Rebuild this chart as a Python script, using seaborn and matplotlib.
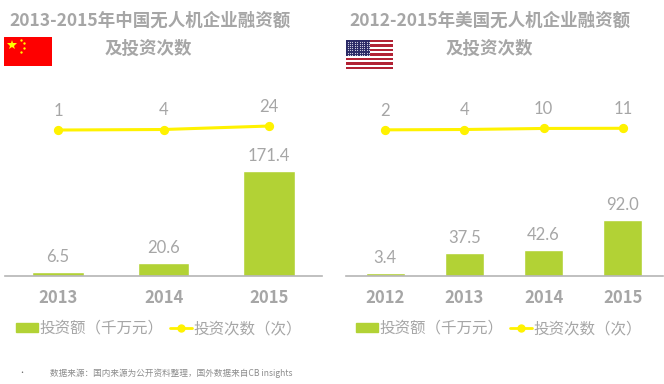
import matplotlib
matplotlib.use("Agg")
import matplotlib.pyplot as plt
from matplotlib.patches import Rectangle, Patch
from matplotlib.lines import Line2D
import numpy as np
import seaborn as sns

# left chart (China)
cn_years = ["2013", "2014", "2015"]
cn_amount = [6.5, 20.6, 171.4]
cn_count = [1, 4, 24]
cn_title = ["2013-2015年中国无人机企业融资额", "及投资次数"]

# right chart (USA)
us_years = ["2012", "2013", "2014", "2015"]
us_amount = [3.4, 37.5, 42.6, 92.0]
us_count = [2, 4, 10, 11]
us_title = ["2012-2015年美国无人机企业融资额", "及投资次数"]

bar_label = "投资额（千万元）"
line_label = "投资次数（次）"
source_note = "数据来源：国内来源为公开资料整理，国外数据来自CB insights"

GREY = "#a6a6a6"
GREEN = "#b2d235"
YELLOW = "#fff200"
W, H = 664, 384

sns.set_style("white")
plt.rcParams["font.family"] = ["Noto Sans CJK SC", "DejaVu Sans"]

fig = plt.figure(figsize=(W / 100, H / 100), dpi=100)


def px_axes(x0, y0, x1, y1):
    # axes from pixel box, y measured from the top
    return fig.add_axes([x0 / W, 1 - y1 / H, (x1 - x0) / W, (y1 - y0) / H])


def draw_chart(box, years, amount, count, title, title_x, sub_x, legend_x):
    ax = px_axes(*box)
    sns.barplot(x=years, y=amount, color=GREEN, saturation=1, width=0.49, ax=ax)
    ax.set_ylim(0, 305)
    ax.bar_label(ax.containers[0], labels=[f"{v:.1f}" for v in amount], padding=5,
                 fontsize=12, color=GREY, family=["Lato", "Noto Sans CJK SC"])

    ax2 = ax.twinx()
    sns.pointplot(x=years, y=count, color=YELLOW, markersize=5, linewidth=2.2, ax=ax2)
    ax2.set_ylim(-835, 231)
    ax2.axis("off")
    for i, v in enumerate(count):
        ax2.annotate(str(v), (i, v), xytext=(0, 8), textcoords="offset points", ha="center",
                     va="bottom", fontsize=12, color=GREY, family=["Lato", "Noto Sans CJK SC"])

    sns.despine(ax=ax, left=True)
    ax.spines["bottom"].set_color("#b5b5b5")
    ax.spines["bottom"].set_linewidth(1.2)
    ax.set_yticks([])
    ax.tick_params(axis="x", length=0, pad=9.5)
    for t in ax.get_xticklabels():
        t.set_fontsize(12)
        t.set_fontweight("bold")
        t.set_color(GREY)

    fig.text(title_x / W, 1 - 20.5 / H, title[0], fontsize=12.6, fontweight="bold", color=GREY,
             ha="left", va="center")
    fig.text(sub_x / W, 1 - 49 / H, title[1], fontsize=12.6, fontweight="bold", color=GREY,
             ha="center", va="center")

    handles = [Patch(color=GREEN, label=bar_label),
               Line2D([0], [0], color=YELLOW, lw=2, marker="o", ms=5, label=line_label)]
    fig.legend(handles=handles, loc="center left", bbox_to_anchor=(legend_x / W, 1 - 328.5 / H),
               ncol=2, frameon=False, fontsize=11.2, labelcolor=GREY, handlelength=1.4,
               handleheight=0.52, handletextpad=0.12, columnspacing=0.4, borderpad=0, borderaxespad=0)


draw_chart((5.25, 90, 322, 275.5), cn_years, cn_amount, cn_count, cn_title, 9, 148, 16)
draw_chart((345.5, 90, 662.5, 275.5), us_years, us_amount, us_count, us_title, 349, 489, 356)

# flags
cn_flag = px_axes(4, 37, 52, 66)
cn_flag.set_xlim(0, 48)
cn_flag.set_ylim(29, 0)
cn_flag.axis("off")
cn_flag.add_patch(Rectangle((0, 0), 48, 29, color="#fe0000"))
cn_flag.plot([8], [7.5], marker="*", ms=7, color="#ffff00", mew=0)
cn_flag.plot([16.5, 20, 20, 16.5], [2.5, 6, 10.5, 14.5], "o", ms=1.7, color="#ffff00", mew=0)

us_flag = px_axes(346, 40, 393, 69)
us_flag.set_xlim(0, 47)
us_flag.set_ylim(29, 0)
us_flag.axis("off")
for i in range(13):
    c = "#b22234" if i % 2 == 0 else "#ffffff"
    us_flag.add_patch(Rectangle((0, i * 29 / 13), 47, 29 / 13, color=c, lw=0))
us_flag.add_patch(Rectangle((0, 0), 24, 15.6, color="#2b2a66", lw=0))
sx, sy = np.meshgrid(np.arange(1.5, 24, 2.4), np.arange(1.5, 15, 2.2))
us_flag.scatter(sx.ravel(), sy.ravel(), s=0.7, color="#d8d8e8", lw=0)

fig.text(22 / W, 1 - 373 / H, "•", fontsize=5, color="#666666", ha="center", va="center")
fig.text(50 / W, 1 - 373 / H, source_note, fontsize=6.2, color="#8c8c8c", ha="left", va="center")

fig.savefig("out.png", dpi=100)
